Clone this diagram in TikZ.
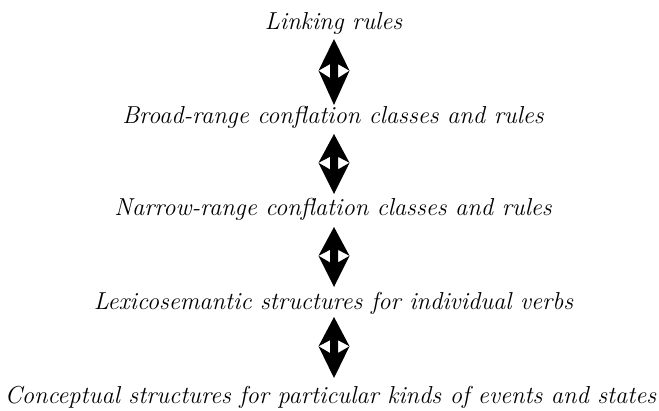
\documentclass[tikz,border=0pt]{standalone}
\usepackage{fontspec}
\usetikzlibrary{calc}
\tikzset{
  level/.style={anchor=base, inner sep=0pt, font=\fontsize{24.5}{30}\selectfont\itshape},
}
% Double-headed block arrow with swept-back heads meeting at the middle
\newcommand{\linkarrow}[2]{%
  \fill[black, even odd rule]
    (#1)
    -- ($(#1)!0.48!(#2)+(-15.5,0)$)
    -- ($(#1)!0.38!(#2)+(-4,0)$)
    -- ($(#1)!0.59!(#2)+(-4,0)$)
    -- ($(#1)!0.48!(#2)+(-15.5,0)$)
    -- (#2)
    -- ($(#1)!0.48!(#2)+(15.5,0)$)
    -- ($(#1)!0.59!(#2)+(4,0)$)
    -- ($(#1)!0.38!(#2)+(4,0)$)
    -- ($(#1)!0.48!(#2)+(15.5,0)$)
    -- cycle;}
\begin{document}
\begin{tikzpicture}[x=1pt, y=-1pt]
  \useasboundingbox (0,0) rectangle (659,410);

  \node[level] (link)   at (333.5,29)  {Linking rules};
  \node[level] (broad)  at (333,123) {Broad-range conflation classes and rules};
  \node[level] (narrow) at (333,215) {Narrow-range conflation classes and rules};
  \node[level] (lexsem) at (333.5,309) {Lexicosemantic structures for individual verbs};
  \node[level] (concep) at (330.5,403) {Conceptual structures for particular kinds of events and states};

  \coordinate (a1t) at (334,39);  \coordinate (a1b) at (334,105);
  \coordinate (a2t) at (334,134); \coordinate (a2b) at (334,194);
  \coordinate (a3t) at (334,227); \coordinate (a3b) at (334,287);
  \coordinate (a4t) at (334,317); \coordinate (a4b) at (334,378);

  \linkarrow{a1t}{a1b}
  \linkarrow{a2t}{a2b}
  \linkarrow{a3t}{a3b}
  \linkarrow{a4t}{a4b}
\end{tikzpicture}
\end{document}
